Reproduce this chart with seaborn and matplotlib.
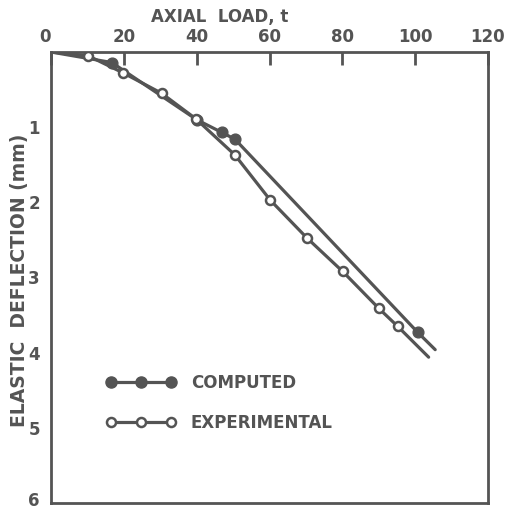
import matplotlib
matplotlib.use("Agg")
import matplotlib.pyplot as plt
import matplotlib.transforms as mtransforms
import seaborn as sns
import pandas as pd
from matplotlib.lines import Line2D

sns.set_theme(style="white")
plt.rcParams['font.family'] = ['DejaVu Sans']
plt.rcParams['font.weight'] = 'bold'

# ---- data (axial load t, elastic deflection mm) ----
computed_load = [0, 16.7, 40.0, 46.9, 50.5, 100.7, 105.5]
computed_defl = [0, 0.14, 0.90, 1.07, 1.16, 3.73, 3.96]
computed_marked = [False, True, True, True, True, True, False]

experimental_load = [0, 10.2, 19.9, 30.4, 39.8, 50.5, 60.2, 70.2, 80.1, 90.0, 95.2, 103.7]
experimental_defl = [0, 0.05, 0.28, 0.55, 0.89, 1.37, 1.97, 2.47, 2.92, 3.41, 3.65, 4.06]
experimental_marked = [False, True, True, True, True, True, True, True, True, True, True, False]

x_ticks = [0, 20, 40, 60, 80, 100, 120]
y_ticks = [1, 2, 3, 4, 5, 6]

INK = "#545454"

comp = pd.DataFrame({"load": computed_load, "defl": computed_defl, "m": computed_marked})
expt = pd.DataFrame({"load": experimental_load, "defl": experimental_defl, "m": experimental_marked})

fig = plt.figure(figsize=(5.07, 5.09), dpi=100)
ax = fig.add_axes([51 / 507, 1 - 503 / 509, (488 - 51) / 507, (503 - 52) / 509])

lw = 2.3
sns.lineplot(data=comp, x="load", y="defl", sort=False, color=INK, lw=lw, ax=ax, legend=False)
sns.lineplot(data=expt, x="load", y="defl", sort=False, color=INK, lw=lw, ax=ax, legend=False)
sns.scatterplot(data=comp[comp.m], x="load", y="defl", color=INK, s=60, edgecolor=INK,
                linewidth=1, ax=ax, legend=False, zorder=5)
sns.scatterplot(data=expt[expt.m], x="load", y="defl", color="white", s=42, edgecolor=INK,
                linewidth=1.8, ax=ax, legend=False, zorder=5)

ax.set_xlim(0, 120)
ax.set_ylim(6, 0)
ax.xaxis.tick_top()
ax.set_xticks(x_ticks)
ax.set_xticklabels([str(v) for v in x_ticks])
ax.set_yticks(y_ticks)
ax.set_yticklabels([str(v) for v in y_ticks])
ax.tick_params(axis="x", direction="in", length=9, width=2, color=INK, labelcolor=INK,
               labelsize=12, pad=4, top=True, bottom=False)
ax.tick_params(axis="y", direction="in", length=11, width=2, color=INK, labelcolor=INK,
               labelsize=12, pad=8)
for lab in ax.get_xticklabels() + ax.get_yticklabels():
    lab.set_fontweight("bold")
last = ax.get_yticklabels()[-1]
last.set_transform(last.get_transform() +
                   mtransforms.ScaledTranslation(0, 4 / 100, fig.dpi_scale_trans))
first = ax.get_xticklabels()[0]
first.set_transform(first.get_transform() +
                    mtransforms.ScaledTranslation(-6 / 100, 0, fig.dpi_scale_trans))
for s in ax.spines.values():
    s.set_visible(True)
    s.set_color(INK)
    s.set_linewidth(2)
ax.set_xlabel("")
ax.set_ylabel("")

fig.text(220 / 507, 1 - 17 / 509, "AXIAL  LOAD, t", ha="center", va="center",
         fontsize=12, fontweight="bold", color=INK)
fig.text(20 / 507, 1 - 280 / 509, "ELASTIC  DEFLECTION (mm)", ha="center", va="center",
         rotation=90, fontsize=13.5, fontweight="bold", color=INK)

h_comp = Line2D([], [], color=INK, lw=lw, marker="o", markersize=8, markerfacecolor=INK,
                markeredgecolor=INK)
h_expt = Line2D([], [], color=INK, lw=lw, marker="o", markersize=6.5, markerfacecolor="white",
                markeredgecolor=INK, markeredgewidth=1.8)
leg = ax.legend([h_comp, h_expt], ["COMPUTED", "EXPERIMENTAL"], numpoints=3,
                loc="center left", bbox_to_anchor=(0.125, 0.222), frameon=False,
                handlelength=4.2, handletextpad=0.9, labelspacing=1.3, fontsize=12,
                borderaxespad=0, borderpad=0)
for t in leg.get_texts():
    t.set_color(INK)
    t.set_fontweight("bold")

fig.savefig("out.png", dpi=100, facecolor="white")
